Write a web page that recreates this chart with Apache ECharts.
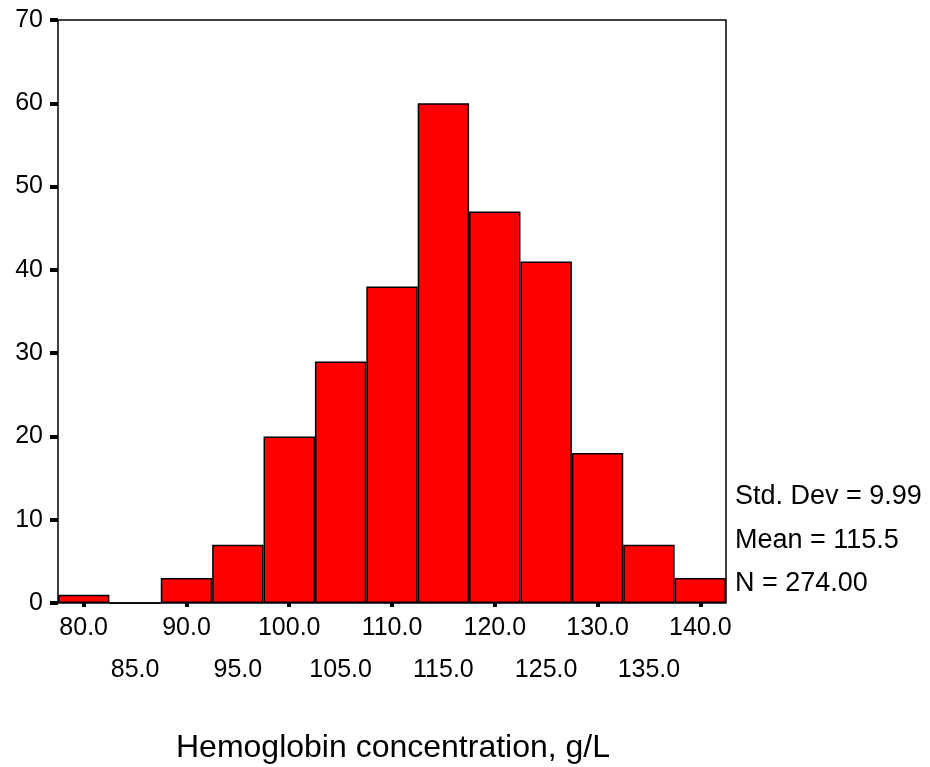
<!DOCTYPE html>
<html><head><meta charset="utf-8">
<script src="https://cdn.jsdelivr.net/npm/echarts@6/dist/echarts.min.js"></script>
<style>html,body{margin:0;padding:0;background:#fff}#c{width:930px;height:767px}</style>
</head><body><div id="c"></div>
<script>
const categories = ['80.0','85.0','90.0','95.0','100.0','105.0','110.0','115.0','120.0','125.0','130.0','135.0','140.0'];
const counts = [1,0,3,7,20,29,38,60,47,41,18,7,3];
const statsLines = ['Std. Dev = 9.99','Mean = 115.5','N = 274.00'];
const xTitle = 'Hemoglobin concentration, g/L';

const chart = echarts.init(document.getElementById('c'), null, {renderer:'canvas'});
const font = 'Liberation Sans, Arial, sans-serif';
chart.setOption({
  animation:false,
  grid:{left:58,right:204,top:20,bottom:164,show:true,borderColor:'#000',borderWidth:1.5,backgroundColor:'transparent'},
  xAxis:[{
    type:'category',data:categories,boundaryGap:true,
    axisLine:{show:false},
    axisTick:{show:true,alignWithLabel:true,length:4,lineStyle:{color:'#000',width:4}},
    axisLabel:{interval:(i)=>i%2===0,margin:13,color:'#000',fontSize:25,fontFamily:font},
    splitLine:{show:false}
  },{
    type:'category',data:categories,boundaryGap:true,position:'bottom',
    axisLine:{show:false},axisTick:{show:false},
    axisLabel:{interval:(i)=>i%2===1,margin:55,color:'#000',fontSize:25,fontFamily:font},
    splitLine:{show:false}
  }],
  yAxis:{
    type:'value',min:0,max:70,interval:10,
    axisLine:{show:false},
    axisTick:{show:true,length:8,inside:false,lineStyle:{color:'#000',width:4}},
    axisLabel:{color:'#000',fontSize:25,fontFamily:font,margin:15},
    splitLine:{show:false}
  },
  series:[{
    type:'bar',data:counts,barCategoryGap:'0%',xAxisIndex:0,
    itemStyle:{color:'#ff0000',borderColor:'#000',borderWidth:1.5}
  }],
  graphic:[
    ...statsLines.map((t,i)=>({type:'text',x:735,y:497+i*43.5,style:{text:t,fill:'#000',font:'27px '+font,verticalAlign:'middle'}})),
    {type:'text',x:176,y:748,style:{text:xTitle,fill:'#000',font:'32px '+font,verticalAlign:'middle'}}
  ]
});
</script></body></html>
